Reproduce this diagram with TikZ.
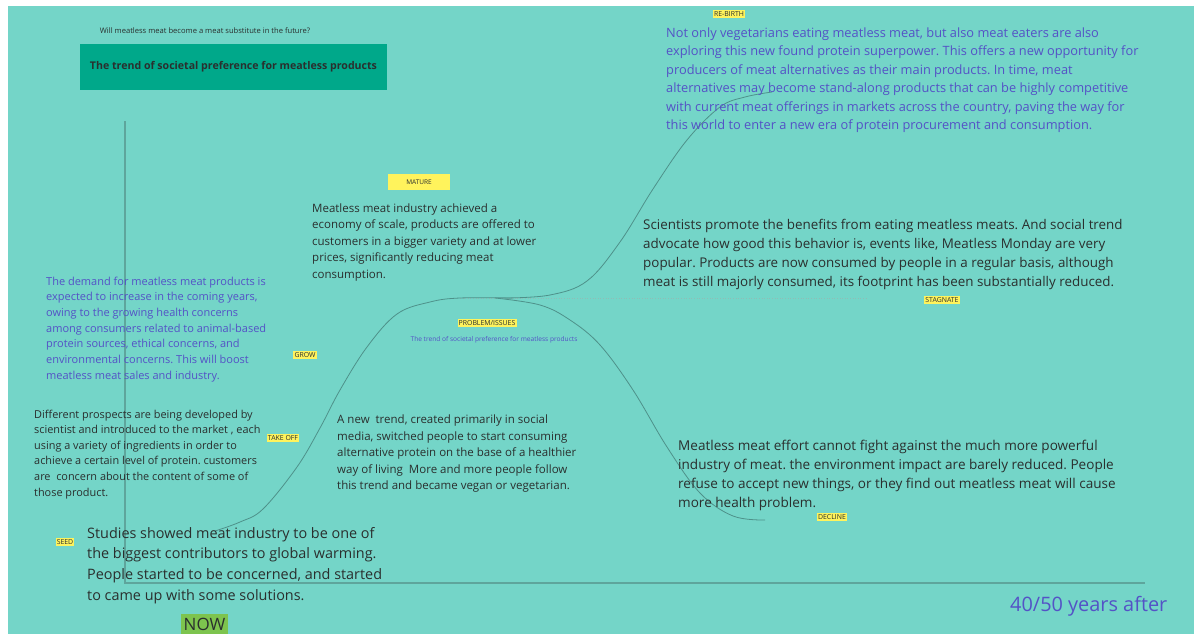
\documentclass[tikz,border=0pt]{standalone}
\usepackage{fontspec}
\setmainfont{Open Sans}
\frenchspacing
\definecolor{bgc}{HTML}{74D5C8}
\definecolor{titlec}{HTML}{00A88A}
\definecolor{darkc}{HTML}{2A2F2E}
\definecolor{bluec}{HTML}{5452C6}
\definecolor{yelc}{HTML}{FFF35C}
\definecolor{nowc}{HTML}{7DC44E}
\definecolor{curvec}{HTML}{4E918A}
\definecolor{axisc}{HTML}{5EA59C}
\definecolor{dotc}{HTML}{8FBDB6}
\tikzset{
  tag/.style={fill=yelc, inner xsep=1.2pt, inner ysep=1.8pt, text=darkc, font=\fontsize{6.9}{7}\selectfont},
  para/.style={anchor=north west, inner sep=0pt, align=left},
  crv/.style={curvec, line width=0.8pt},
}
\newcommand{\fs}[2]{\fontsize{#1}{#2}\selectfont}
\begin{document}
\begin{tikzpicture}[x=1pt,y=-1pt]
\useasboundingbox (0,0) rectangle (1194,634);
\fill[white] (0,0) rectangle (1194,634);
\fill[bgc] (8,6) rectangle (1194,634);

% axes
\draw[axisc, line width=1.2pt] (125,121) -- (125,583) -- (1145,583);

% dotted stagnate line
\draw[dotc, line width=0.6pt, dotted] (460,298) -- (867,298);

% curves
\draw[crv] plot[smooth, tension=0.6] coordinates {(215,531) (240,522) (263,509) (297,467) (320,428) (340,390) (367,347) (397,314) (430,302) (460,298) (512,298)};
\draw[crv] plot[smooth, tension=0.6] coordinates {(505,298) (550,295) (587,281) (620,242) (653,189) (687,140) (720,107) (745,97) (772,92)};
\draw[crv] plot[smooth, tension=0.6] coordinates {(495,298) (540,305) (570,320) (600,345) (633,390) (667,447) (700,493) (733,516) (765,520)};

% title area
\node[darkc, font=\fs{7.6}{8}] (question) at (205,31) {Will meatless meat become a meat substitute in the future?};
\node[fill=titlec, minimum width=307pt, minimum height=46pt, inner sep=0pt, text=darkc, font=\bfseries\fs{10.6}{12}] (title) at (233.5,67) {The trend of societal preference for meatless products};

% stage tags
\node[tag, minimum width=62pt, minimum height=16pt, font=\fs{6.5}{7}] (mature) at (419,182) {MATURE};
\node[tag] (rebirth) at (729,14) {RE-BIRTH};
\node[tag] (problem) at (487,323) {PROBLEM/ISSUES};
\node[text=bluec, inner sep=0pt, font=\fs{6.6}{7}] (problemsub) at (494,340) {The trend of societal preference for meatless products};
\node[tag] (grow) at (305,355) {GROW};
\node[tag] (takeoff) at (283,438) {TAKE OFF};
\node[tag] (seed) at (65,542) {SEED};
\node[tag] (stagnate) at (942,300) {STAGNATE};
\node[tag] (decline) at (832,517) {DECLINE};
\node[fill=nowc, minimum width=47pt, minimum height=21pt, inner sep=0pt, text=darkc, font=\fs{17}{18}] (now) at (204.5,624.5) {NOW};

% paragraphs
\node[para, text=darkc, font=\fs{11.5}{16.5}] (maturetext) at (312,203.5) {Meatless meat industry achieved a\\economy of scale, products are offered to\\customers in a bigger variety and at lower\\prices, significantly reducing meat\\consumption.};

\node[para, text=bluec, font=\fs{11}{15.7}] (demandtext) at (46,276.5) {The demand for meatless meat products is\\expected to increase in the coming years,\\owing to the growing health concerns\\among consumers related to animal-based\\protein sources, ethical concerns, and\\environmental concerns. This will boost\\meatless meat sales and industry.};

\node[para, text=darkc, font=\fs{10.9}{15.6}] (prospecttext) at (34,409.5) {Different prospects are being developed by\\scientist and introduced to the market , each\\using a variety of ingredients in order to\\achieve a certain level of protein. customers\\are~ concern about the content of some of\\those product.};

\node[para, text=darkc, font=\fs{11.5}{16.5}] (trendtext) at (337,415) {A new~ trend, created primarily in social\\media, switched people to start consuming\\alternative protein on the base of a healthier\\way of living~ More and more people follow\\this trend and became vegan or vegetarian.};

\node[para, text=darkc, font=\fs{14.4}{20.7}] (studiestext) at (87,527) {Studies showed meat industry to be one of\\the biggest contributors to global warming.\\People started to be concerned, and started\\to came up with some solutions.};

\node[para, text=bluec, font=\fs{12.8}{18.4}] (rebirthtext) at (666,27.6) {Not only vegetarians eating meatless meat, but also meat eaters are also\\exploring this new found protein superpower. This offers a new opportunity for\\producers of meat alternatives as their main products. In time, meat\\alternatives may become stand-along products that can be highly competitive\\with current meat offerings in markets across the country, paving the way for\\this world to enter a new era of protein procurement and consumption.};

\node[para, text=darkc, font=\fs{13.4}{18.8}] (scientisttext) at (643,219.3) {Scientists promote the benefits from eating meatless meats. And social trend\\advocate how good this behavior is, events like, Meatless Monday are very\\popular. Products are now consumed by people in a regular basis, although\\meat is still majorly consumed, its footprint has been substantially reduced.};

\node[para, text=darkc, font=\fs{13.55}{19}] (declinetext) at (678,440.2) {Meatless meat effort cannot fight against the much more powerful\\industry of meat. the environment impact are barely reduced. People\\refuse to accept new things, or they find out meatless meat will cause\\more health problem.};

\node[anchor=west, inner sep=0pt, text=bluec, font=\fs{19.9}{20}] (after) at (1010,606) {40/50 years after};
\end{tikzpicture}
\end{document}
